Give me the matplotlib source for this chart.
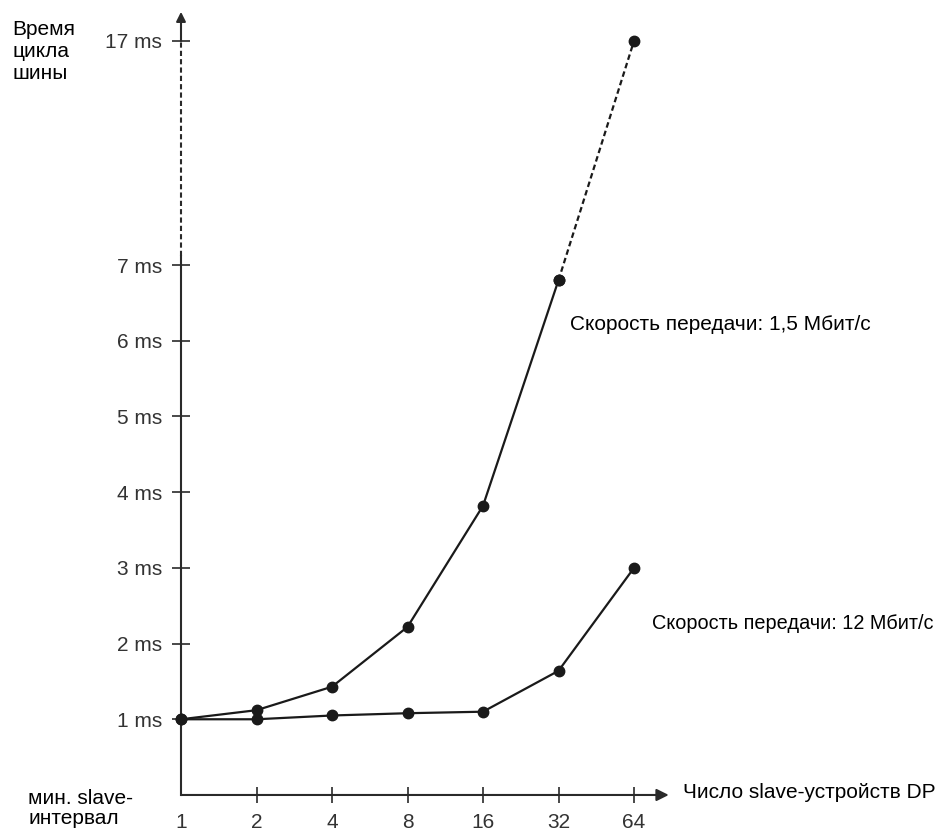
#!/usr/bin/env python3
import numpy as np
import matplotlib
matplotlib.use("Agg")
import matplotlib.pyplot as plt
from matplotlib.ticker import NullLocator, FixedLocator

plt.rcParams['font.family'] = ['Liberation Sans', 'DejaVu Sans']

# data
slaves = [1, 2, 4, 8, 16, 32, 64]
time_15 = [1.0, 1.12, 1.43, 2.22, 3.82, 6.8, 17.0]   # 1,5 Mbit/s
time_12 = [1.0, 1.0, 1.05, 1.08, 1.1, 1.64, 3.0]     # 12 Mbit/s
y_ticks = [1, 2, 3, 4, 5, 6, 7, 17]
y_labels = [f"{v} ms" for v in y_ticks]
x_labels = [str(v) for v in slaves]

# broken y axis: above 7 ms the scale is squeezed
K = 0.296


def fwd(y):
    y = np.asarray(y, dtype=float)
    return np.where(y <= 7, y, 7 + (y - 7) * K)


def inv(p):
    p = np.asarray(p, dtype=float)
    return np.where(p <= 7, p, 7 + (p - 7) / K)


W, H = 943, 832
fig = plt.figure(figsize=(W / 100, H / 100), dpi=100)
ax = fig.add_axes([165.9 / W, 0.0263, 513.4 / W, 0.9736])

ax.set_xscale('log', base=2)
ax.set_yscale('function', functions=(fwd, inv))
ax.set_xlim(2 ** -0.2, 2 ** 6.6)
ax.set_ylim(-0.2, float(inv(10.5)))

for s in ax.spines.values():
    s.set_visible(False)
ax.spines['left'].set_position(('data', 1))
ax.spines['bottom'].set_position(('data', 0))

axc = '#2a2a2a'
# axes lines
ax.plot([1, 1], [0, 7.4], color=axc, lw=1.5, clip_on=False)
ax.plot([1, 1], [7.4, 17], color=axc, lw=1.5, ls=(0, (2.5, 1.5)), clip_on=False)
ax.annotate('', xy=(1, 18.3), xytext=(1, 17),
            arrowprops=dict(arrowstyle='-|>', color=axc, lw=1.5,
                            mutation_scale=14, shrinkA=0, shrinkB=0))
ax.annotate('', xy=(2 ** 6.46, 0), xytext=(1, 0),
            arrowprops=dict(arrowstyle='-|>', color=axc, lw=1.5,
                            mutation_scale=18, shrinkA=0, shrinkB=0))

# ticks
ax.xaxis.set_major_locator(FixedLocator(slaves))
ax.xaxis.set_minor_locator(NullLocator())
ax.set_xticklabels(x_labels)
ax.yaxis.set_major_locator(FixedLocator(y_ticks))
ax.yaxis.set_minor_locator(NullLocator())
ax.set_yticklabels(y_labels)
ax.tick_params(axis='x', direction='inout', length=12, width=1.2, color=axc,
               pad=7, labelsize=15, labelcolor='#333333')
ax.tick_params(axis='y', direction='inout', length=13, width=1.2, color=axc,
               pad=7, labelsize=15, labelcolor='#333333')
# the 1 at the origin has no tick mark
ax.xaxis.get_major_ticks()[0].tick1line.set_visible(False)

# series
lc = '#1a1a1a'
ax.plot(slaves[:6], time_15[:6], color=lc, lw=1.6, marker='o', ms=7.5, clip_on=False)
ax.plot(slaves[5:], time_15[5:], color=lc, lw=1.6, ls=(0, (2.5, 1.5)),
        marker='o', ms=7.5, clip_on=False)
ax.plot(slaves, time_12, color=lc, lw=1.6, marker='o', ms=7.5, clip_on=False)

ax.text(35.5, 6.21, 'Скорость передачи: 1,5 Мбит/с', fontsize=15, va='center', ha='left')
ax.text(75.5, 2.26, 'Скорость передачи: 12 Мбит/с', fontsize=14.3, va='center', ha='left')

fig.text(12 / W, 1 - 20 / H, 'Время\nцикла\nшины', fontsize=15, va='top', ha='left',
         linespacing=1.2)
fig.text(28 / W, 1 - 789 / H, 'мин. slave-\nинтервал', fontsize=15, va='top', ha='left',
         linespacing=1.1)
fig.text(683 / W, 1 - 793 / H, 'Число slave-устройств DP', fontsize=15, va='center',
         ha='left')

fig.savefig('out.png', dpi=100)
